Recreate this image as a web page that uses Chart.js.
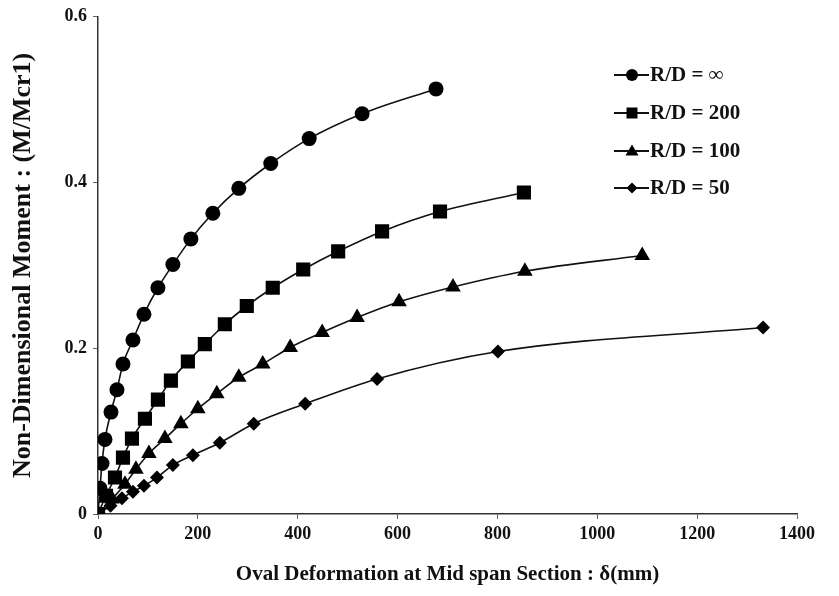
<!DOCTYPE html>
<html>
<head>
<meta charset="utf-8">
<script src="https://cdn.jsdelivr.net/npm/chart.js@4.4.0/dist/chart.umd.min.js"></script>
<style>
  html, body { margin: 0; padding: 0; background: #fff; }
</style>
</head>
<body>
<canvas id="myChart" width="839" height="596"></canvas>
<script>
  // data
  const seriesLabels = ['R/D = \u221E', 'R/D = 200', 'R/D = 100', 'R/D = 50'];

  const infX = [0, 4, 8, 14, 26, 38, 50, 70, 92, 120, 150, 186, 230, 282, 346, 423, 529, 677];
  const infY = [0, 0.031, 0.061, 0.090, 0.123, 0.150, 0.181, 0.210, 0.241, 0.273, 0.301, 0.332, 0.363, 0.393, 0.423, 0.453, 0.483, 0.513];

  const rd200X = [0, 16, 34, 50, 68, 94, 120, 146, 180, 214, 254, 298, 350, 411, 481, 569, 685, 853];
  const rd200Y = [0, 0.022, 0.044, 0.068, 0.091, 0.115, 0.138, 0.161, 0.184, 0.205, 0.229, 0.251, 0.273, 0.295, 0.317, 0.341, 0.365, 0.388];

  const rd100X = [0, 28, 54, 76, 102, 134, 166, 200, 238, 282, 330, 385, 449, 519, 603, 711, 855, 1090];
  const rd100Y = [0, 0.018, 0.036, 0.054, 0.073, 0.091, 0.109, 0.127, 0.145, 0.165, 0.181, 0.201, 0.219, 0.237, 0.256, 0.274, 0.293, 0.312];

  const rd50X = [0, 25, 48, 70, 92, 118, 150, 190, 244, 312, 415, 559, 801, 1332];
  const rd50Y = [0, 0.010, 0.019, 0.027, 0.034, 0.044, 0.059, 0.071, 0.086, 0.109, 0.133, 0.163, 0.196, 0.225];

  const xTicks = [0, 200, 400, 600, 800, 1000, 1200, 1400];
  const yTicks = [0, 0.2, 0.4, 0.6];

  const serif = "'Liberation Serif', 'Times New Roman', serif";

  const toPoints = (xs, ys) => xs.map((x, i) => ({ x: x, y: ys[i] }));

  const styles = [
    { pointStyle: 'circle', radius: 7.5 },
    { pointStyle: 'rect', radius: 10 },
    { pointStyle: 'triangle', radius: 9 },
    { pointStyle: 'rectRot', radius: 7 }
  ];
  const allData = [toPoints(infX, infY), toPoints(rd200X, rd200Y), toPoints(rd100X, rd100Y), toPoints(rd50X, rd50Y)];

  const data = {
    datasets: allData.map((pts, i) => ({
      label: seriesLabels[i],
      data: pts,
      showLine: true,
      borderColor: '#111',
      backgroundColor: '#000',
      borderWidth: 1.6,
      pointStyle: styles[i].pointStyle,
      pointRadius: styles[i].radius,
      pointHoverRadius: styles[i].radius,
      pointBackgroundColor: '#000',
      pointBorderColor: '#000',
      pointBorderWidth: 0,
      cubicInterpolationMode: 'monotone'
    }))
  };

  // legend with a line through the marker, like the spreadsheet one
  const lineLegend = {
    id: 'lineLegend',
    afterDraw(chart) {
      const { ctx } = chart;
      const rowY = [75, 113, 151, 188];
      ctx.save();
      ctx.font = 'bold 21px ' + serif;
      ctx.textBaseline = 'middle';
      chart.data.datasets.forEach((ds, i) => {
        const y = rowY[i];
        ctx.strokeStyle = '#111';
        ctx.lineWidth = 2;
        ctx.beginPath();
        ctx.moveTo(614, y);
        ctx.lineTo(649, y);
        ctx.stroke();
        const cx = 632;
        ctx.fillStyle = '#000';
        ctx.beginPath();
        if (ds.pointStyle === 'circle') {
          ctx.arc(cx, y, 6, 0, Math.PI * 2);
        } else if (ds.pointStyle === 'rect') {
          ctx.rect(cx - 5.5, y - 5.5, 11, 11);
        } else if (ds.pointStyle === 'triangle') {
          ctx.moveTo(cx, y - 6.5);
          ctx.lineTo(cx + 6.5, y + 4.5);
          ctx.lineTo(cx - 6.5, y + 4.5);
          ctx.closePath();
        } else {
          ctx.moveTo(cx, y - 5.5);
          ctx.lineTo(cx + 5.5, y);
          ctx.lineTo(cx, y + 5.5);
          ctx.lineTo(cx - 5.5, y);
          ctx.closePath();
        }
        ctx.fill();
        ctx.fillStyle = '#111';
        ctx.fillText(ds.label, 650, y + 1);
      });
      ctx.restore();
    }
  };

  const config = {
    type: 'scatter',
    data,
    options: {
      responsive: false,
      animation: false,
      devicePixelRatio: 1,
      layout: { padding: { top: 15, right: 42, left: 0, bottom: 0 } },
      plugins: {
        legend: { display: false },
        tooltip: { enabled: false }
      },
      scales: {
        x: {
          type: 'linear',
          min: 0,
          max: 1400,
          afterFit(scale) { scale.height = 82; },
          afterBuildTicks(scale) { scale.ticks = xTicks.map(v => ({ value: v })); },
          grid: { drawOnChartArea: false, drawTicks: true, tickLength: 5, color: '#666' },
          border: { display: true, color: '#333', width: 1.5 },
          ticks: {
            color: '#111',
            padding: 5,
            font: { family: serif, size: 18, weight: 'bold' },
            callback: v => String(v)
          },
          title: {
            display: true,
            text: 'Oval Deformation at Mid span Section : \u03B4(mm)',
            color: '#111',
            font: { family: serif, size: 21, weight: 'bold' },
            padding: { top: 9, bottom: 9 }
          }
        },
        y: {
          type: 'linear',
          min: 0,
          max: 0.6,
          afterFit(scale) { scale.width = 98; },
          afterBuildTicks(scale) { scale.ticks = yTicks.map(v => ({ value: v })); },
          grid: { drawOnChartArea: false, drawTicks: true, tickLength: 5, color: '#666' },
          border: { display: true, color: '#333', width: 1.5 },
          ticks: {
            color: '#111',
            padding: 6,
            font: { family: serif, size: 18, weight: 'bold' },
            callback: v => (v === 0 ? '0' : v.toFixed(1))
          },
          title: {
            display: true,
            text: 'Non-Dimensional Moment : (M/Mcr1)',
            color: '#111',
            font: { family: serif, size: 26, weight: 'bold' },
            padding: { top: 8, bottom: 8 }
          }
        }
      }
    },
    plugins: [lineLegend]
  };

  const myChart = new Chart(document.getElementById('myChart'), config);
</script>
</body>
</html>
